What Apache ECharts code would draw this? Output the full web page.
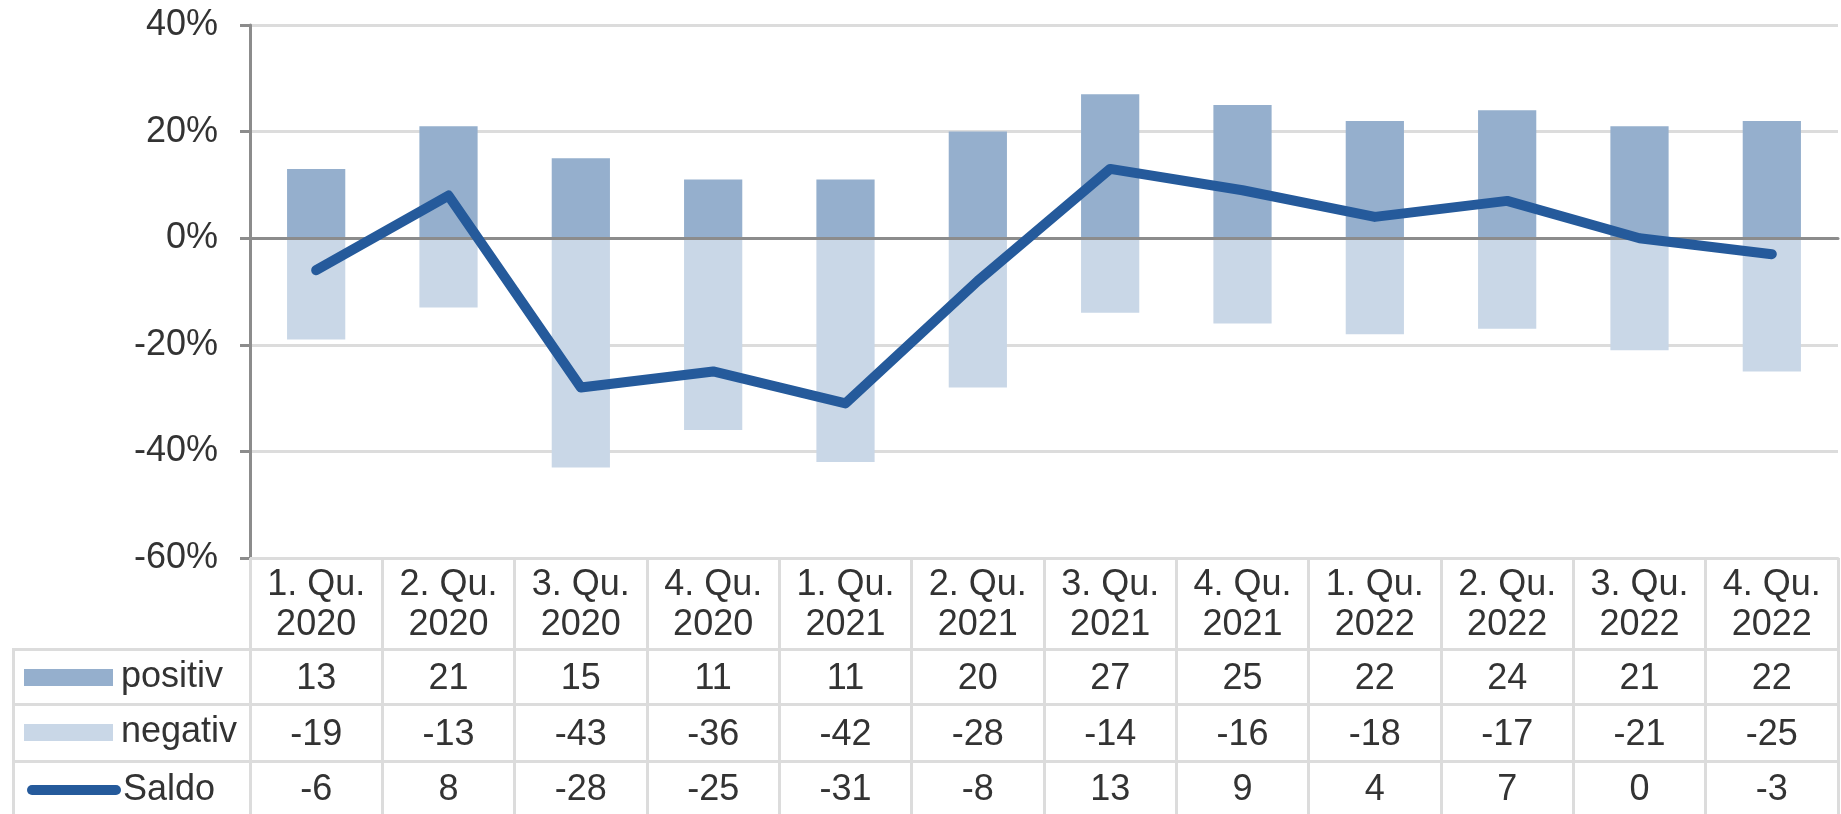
<!DOCTYPE html>
<html><head><meta charset="utf-8">
<script src="https://cdn.jsdelivr.net/npm/echarts@6/dist/echarts.min.js"></script>
<style>html,body{margin:0;padding:0;background:#fff}#c{width:1841px;height:814px}</style>
</head><body><div id="c"></div>
<script>
const categories = ['1. Qu.\n2020','2. Qu.\n2020','3. Qu.\n2020','4. Qu.\n2020','1. Qu.\n2021','2. Qu.\n2021','3. Qu.\n2021','4. Qu.\n2021','1. Qu.\n2022','2. Qu.\n2022','3. Qu.\n2022','4. Qu.\n2022'];
const positiv = [13,21,15,11,11,20,27,25,22,24,21,22];
const negativ = [-19,-13,-43,-36,-42,-28,-14,-16,-18,-17,-21,-25];
const saldo = [-6,8,-28,-25,-31,-8,13,9,4,7,0,-3];
const yMin = -60, yMax = 40, yStep = 20;
const seriesNames = ['positiv','negativ','Saldo'];

const FONT = 'Liberation Sans, Arial, sans-serif';
const TXT = '#333333';
const GRIDC = '#DCDCDC';
const AXC = '#8C8C8C';
const C_POS = '#95AFCD', C_NEG = '#C9D7E7', C_LINE = '#255A9B';

const GL = 250, GT = 25, GR = 3, GB = 256;
const H = 814, W = 1841;

function rowAxis(arr, off) {
  return {
    type: 'category', data: categories, gridIndex: 0, position: 'bottom', offset: off,
    axisLine: {show: false}, axisTick: {show: false},
    axisLabel: {interval: 0, margin: 0, fontSize: 36, lineHeight: 40, color: TXT, fontFamily: FONT,
      formatter: (v, i) => String(arr[i])}
  };
}
const legendText = (padLeft) => ({fontSize: 36, lineHeight: 40, color: TXT, fontFamily: FONT, padding: [0,0,0,padLeft]});

const chart = echarts.init(document.getElementById('c'), null, {renderer: 'canvas'});
chart.setOption({
  animation: false,
  backgroundColor: '#fff',
  grid: {left: GL, top: GT, right: GR, bottom: GB, containLabel: false},
  xAxis: [
    {type: 'category', data: categories, position: 'bottom',
      axisLine: {onZero: false, lineStyle: {color: GRIDC, width: 3}},
      axisTick: {show: true, length: GB, lineStyle: {color: GRIDC, width: 3}},
      axisLabel: {interval: 0, margin: 7, fontSize: 36, lineHeight: 40, color: TXT, fontFamily: FONT},
      splitLine: {show: false}},
    {type: 'category', data: categories, z: 3,
      axisLine: {onZero: true, lineStyle: {color: AXC, width: 3}},
      axisTick: {show: false}, axisLabel: {show: false}, splitLine: {show: false}},
    rowAxis(positiv, 101),
    rowAxis(negativ, 157),
    rowAxis(saldo, 212)
  ],
  yAxis: {
    type: 'value', min: yMin, max: yMax, interval: yStep,
    axisLine: {show: true, lineStyle: {color: AXC, width: 3}},
    axisTick: {show: true, length: 10, lineStyle: {color: AXC, width: 3}},
    axisLabel: {formatter: '{value}%', fontSize: 36, color: TXT, fontFamily: FONT, margin: 32},
    splitLine: {show: true, lineStyle: {color: GRIDC, width: 3}}
  },
  legend: [
    {data: [{name: seriesNames[0], icon: 'rect'}], left: 24, top: 657.5, padding: 0, itemWidth: 89, itemHeight: 17, itemGap: 0,
      selectedMode: false, textStyle: legendText(3)},
    {data: [{name: seriesNames[1], icon: 'rect'}], left: 24, top: 712.5, padding: 0, itemWidth: 89, itemHeight: 17, itemGap: 0,
      selectedMode: false, textStyle: legendText(3)},
    {data: [seriesNames[2]], left: 27, top: 770, padding: 0, itemWidth: 84, itemHeight: 10, itemGap: 0,
      selectedMode: false, lineStyle: {width: 10, cap: 'round'}, itemStyle: {opacity: 0},
      textStyle: legendText(2)}
  ],
  series: [
    {name: seriesNames[0], type: 'bar', data: positiv, xAxisIndex: 0, barWidth: '44%', barGap: '-100%',
      itemStyle: {color: C_POS}, z: 2},
    {name: seriesNames[1], type: 'bar', data: negativ, xAxisIndex: 0, barWidth: '44%', barGap: '-100%',
      itemStyle: {color: C_NEG}, z: 2},
    {name: seriesNames[2], type: 'line', data: saldo, xAxisIndex: 0, symbol: 'none', showSymbol: false,
      lineStyle: {color: C_LINE, width: 10, cap: 'round', join: 'round'}, itemStyle: {color: C_LINE}, z: 5}
  ],
  graphic: [
    {type: 'line', shape: {x1: 13, y1: 649.5, x2: W - GR, y2: 649.5}, style: {stroke: GRIDC, lineWidth: 3}, silent: true},
    {type: 'line', shape: {x1: 13, y1: 704.5, x2: W - GR, y2: 704.5}, style: {stroke: GRIDC, lineWidth: 3}, silent: true},
    {type: 'line', shape: {x1: 13, y1: 761.5, x2: W - GR, y2: 761.5}, style: {stroke: GRIDC, lineWidth: 3}, silent: true},
    {type: 'line', shape: {x1: 13.5, y1: 648, x2: 13.5, y2: H}, style: {stroke: GRIDC, lineWidth: 3}, silent: true}
  ]
});
</script></body></html>
